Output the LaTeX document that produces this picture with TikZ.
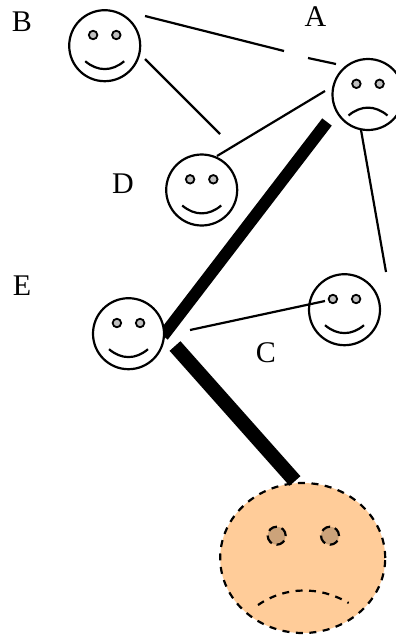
\documentclass[tikz,border=0pt]{standalone}
\usepackage{fontspec}
\setmainfont{Liberation Serif}
\usetikzlibrary{positioning,shapes.geometric}

\begin{document}
\begin{tikzpicture}[
    x=1pt, y=-1pt,
    face/.style={draw, circle, fill=white, line width=2.2pt, minimum size=71pt, inner sep=0pt},
    eye/.style={draw, circle, fill=gray!50, line width=1.8pt, minimum size=8.5pt, inner sep=0pt},
    dashes/.style={dash pattern=on 7pt off 6.5pt},
    bigface/.style={draw, ellipse, dashes, fill=bigskin, line width=2.2pt, minimum width=165pt, minimum height=150pt, inner sep=0pt},
    bigeye/.style={draw, circle, dash pattern=on 9pt off 5pt, fill=bigskin!80!black, line width=2.2pt, minimum size=18pt, inner sep=0pt},
    letter/.style={font=\fontsize{30}{30}\selectfont, inner sep=0pt},
    link/.style={line width=2.2pt},
    heavy/.style={line width=12pt},
    heavier/.style={line width=14.5pt},
  ]
    \definecolor{bigskin}{HTML}{FFCC99}
    \useasboundingbox (0,0) rectangle (396,635);
    \clip (0,0) rectangle (396,635);

    % ends of the connectors
    \coordinate (ae) at (327,122);
    \coordinate (ea) at (163,336);
    \coordinate (eg) at (175,346);
    \coordinate (ge) at (295,481);
    \coordinate (ba) at (145,16);
    \coordinate (bm) at (284,51);
    \coordinate (am) at (308,58);
    \coordinate (ab) at (336,64);
    \coordinate (bd) at (145,59);
    \coordinate (db) at (220,134);
    \coordinate (da) at (217,156);
    \coordinate (ad) at (325,91);
    \coordinate (ac) at (361,130);
    \coordinate (ca) at (386,272);
    \coordinate (ec) at (190,330);
    \coordinate (ce) at (325,301);

    \draw[heavy] (ae) -- (ea);

    \node[face] (B) at (104.7,45.7) {};
    \node[face] (A) at (368,94.5) {};
    \node[face] (D) at (201.7,190) {};
    \node[face] (E) at (128.5,333.7) {};
    \node[face] (C) at (344.5,309.7) {};
    \node[bigface] (G) at (302.7,558) {};

    \foreach \f in {A,B,C,D,E} {
      \node[eye] (\f l) at ([shift={(-11.6,-10.7)}]\f.center) {};
      \node[eye] (\f r) at ([shift={(11.6,-10.7)}]\f.center) {};
    }
    \foreach \f in {B,C,D,E}
      \draw[link] ([shift={(-19.5,15.5)}]\f.center) .. controls ([shift={(-7,26)}]\f.center) and ([shift={(7,26)}]\f.center) .. ([shift={(19.5,15.5)}]\f.center);
    \draw[link] ([shift={(-19.5,21)}]A.center) .. controls ([shift={(-7,10.5)}]A.center) and ([shift={(7,10.5)}]A.center) .. ([shift={(19.5,21)}]A.center);

    \node[bigeye] (Gl) at ([shift={(-26,-22.3)}]G.center) {};
    \node[bigeye] (Gr) at ([shift={(27.3,-22.3)}]G.center) {};
    \draw[link, dashes] ([shift={(-44.7,47)}]G.center) .. controls ([shift={(-17,28)}]G.center) and ([shift={(17,28)}]G.center) .. ([shift={(46,45)}]G.center);

    \draw[link] (ba) -- (bm);
    \draw[link] (am) -- (ab);
    \draw[link] (bd) -- (db);
    \draw[link] (da) -- (ad);
    \draw[link] (ac) -- (ca);
    \draw[link] (ec) -- (ce);
    \draw[heavier] (eg) -- (ge);

    \node[letter] (nameB) at (22,22) {B};
    \node[letter] (nameA) at (315.5,17) {A};
    \node[letter] (nameD) at (123,184) {D};
    \node[letter] (nameE) at (22,286) {E};
    \node[letter] (nameC) at (266,353) {C};
  \end{tikzpicture}
\end{document}
